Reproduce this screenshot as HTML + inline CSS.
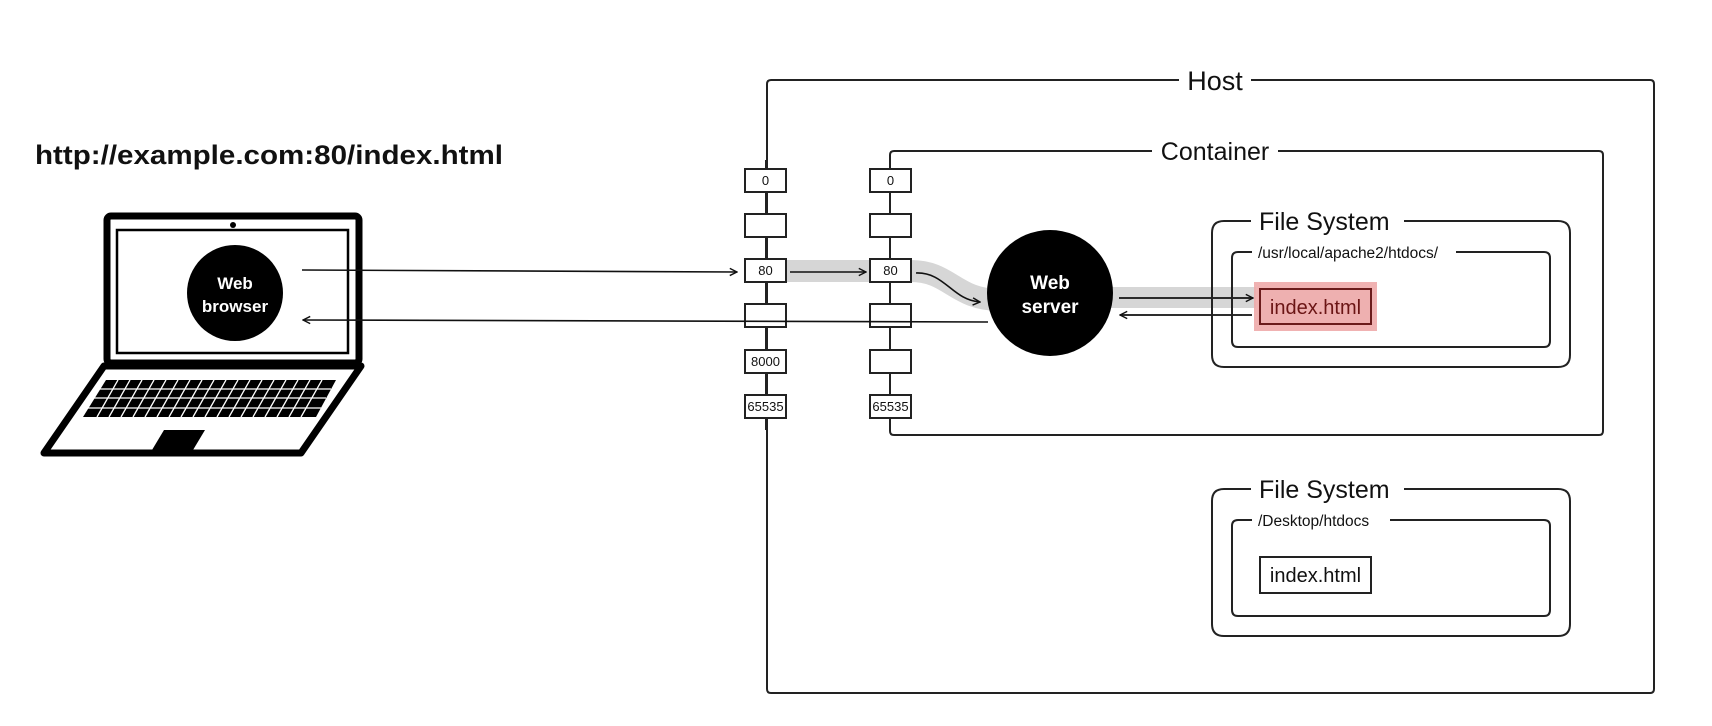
<!DOCTYPE html>
<html><head><meta charset="utf-8"><style>
html,body{margin:0;padding:0;background:#fff}
svg{display:block}
text{font-family:"Liberation Sans",sans-serif}
</style></head><body>
<svg width="1712" height="726" viewBox="0 0 1712 726" xmlns="http://www.w3.org/2000/svg">
<defs>
<marker id="ar" viewBox="0 0 10 10" refX="9" refY="5" markerWidth="9" markerHeight="9" orient="auto" markerUnits="userSpaceOnUse">
<path d="M1,1 L9,5 L1,9" fill="none" stroke="#111" stroke-width="1.6"/>
</marker>
</defs>
<text x="35" y="164" font-size="27" font-weight="bold" fill="#111" textLength="468" lengthAdjust="spacingAndGlyphs">http://example.com:80/index.html</text>

<!-- laptop -->
<rect x="107" y="216" width="252" height="147" rx="4" fill="none" stroke="#000" stroke-width="7"/>
<rect x="117" y="230" width="231" height="123" fill="none" stroke="#000" stroke-width="2.5"/>
<circle cx="233" cy="225" r="3" fill="#000"/>
<path d="M104,366 L361,366 L301,453 L44,453 Z" fill="none" stroke="#000" stroke-width="7" stroke-linejoin="round"/>
<path d="M106,380 L336,380 L316,417 L83,417 Z" fill="#000"/>
<g stroke="#fff" stroke-width="1.3">
<line x1="98" y1="389" x2="331" y2="389"/><line x1="93" y1="398" x2="326" y2="398"/><line x1="88" y1="408" x2="321" y2="408"/>
<line x1="118" y1="380" x2="97" y2="417"/><line x1="130" y1="380" x2="109" y2="417"/><line x1="142" y1="380" x2="121" y2="417"/><line x1="154" y1="380" x2="133" y2="417"/><line x1="166" y1="380" x2="145" y2="417"/><line x1="178" y1="380" x2="157" y2="417"/><line x1="190" y1="380" x2="169" y2="417"/><line x1="202" y1="380" x2="181" y2="417"/><line x1="214" y1="380" x2="193" y2="417"/><line x1="226" y1="380" x2="205" y2="417"/><line x1="238" y1="380" x2="217" y2="417"/><line x1="250" y1="380" x2="229" y2="417"/><line x1="262" y1="380" x2="241" y2="417"/><line x1="274" y1="380" x2="253" y2="417"/><line x1="286" y1="380" x2="265" y2="417"/><line x1="298" y1="380" x2="277" y2="417"/><line x1="310" y1="380" x2="289" y2="417"/><line x1="322" y1="380" x2="301" y2="417"/>
</g>
<path d="M164,430 L205,430 L193,450 L152,450 Z" fill="#000"/>
<circle cx="235" cy="293" r="48" fill="#000"/>
<text x="235" y="289" font-size="17" font-weight="bold" fill="#fff" text-anchor="middle">Web</text>
<text x="235" y="312" font-size="17" font-weight="bold" fill="#fff" text-anchor="middle">browser</text>

<!-- gray bands -->
<rect x="786" y="260" width="84" height="22" fill="#d6d6d6"/>
<path d="M911,271 C950,271 955,300 1000,300" fill="none" stroke="#d6d6d6" stroke-width="22"/>
<rect x="1100" y="287" width="156" height="21" fill="#d6d6d6"/>

<!-- Host -->
<path d="M1179,80 L771,80 Q767,80 767,84 L767,689 Q767,693 771,693 L1650,693 Q1654,693 1654,689 L1654,84 Q1654,80 1650,80 L1251,80" fill="none" stroke="#222" stroke-width="2"/>
<text x="1215" y="90" font-size="27" fill="#111" text-anchor="middle">Host</text>

<!-- Container -->
<path d="M1152,151 L894,151 Q890,151 890,155 L890,431 Q890,435 894,435 L1599,435 Q1603,435 1603,431 L1603,155 Q1603,151 1599,151 L1278,151" fill="none" stroke="#222" stroke-width="2"/>
<text x="1215" y="160" font-size="25" fill="#111" text-anchor="middle">Container</text>

<!-- port stacks -->
<line x1="766" y1="160" x2="766" y2="430" stroke="#222" stroke-width="2"/>
<line x1="890" y1="160" x2="890" y2="420" stroke="#222" stroke-width="2"/>
<g fill="#fff" stroke="#222" stroke-width="2">
<rect x="745" y="169" width="41" height="23"/><rect x="745" y="214" width="41" height="23"/><rect x="745" y="259" width="41" height="23"/><rect x="745" y="304" width="41" height="23"/><rect x="745" y="350" width="41" height="23"/><rect x="745" y="395" width="41" height="23"/>
<rect x="870" y="169" width="41" height="23"/><rect x="870" y="214" width="41" height="23"/><rect x="870" y="259" width="41" height="23"/><rect x="870" y="304" width="41" height="23"/><rect x="870" y="350" width="41" height="23"/><rect x="870" y="395" width="41" height="23"/>
</g>
<g font-size="13" fill="#111" text-anchor="middle">
<text x="765.5" y="185">0</text><text x="765.5" y="275">80</text><text x="765.5" y="366">8000</text><text x="765.5" y="411">65535</text>
<text x="890.5" y="185">0</text><text x="890.5" y="275">80</text><text x="890.5" y="411">65535</text>
</g>

<!-- arrows -->
<line x1="302" y1="270" x2="737" y2="272" stroke="#111" stroke-width="1.6" marker-end="url(#ar)"/>
<line x1="988" y1="322" x2="303" y2="320" stroke="#111" stroke-width="1.6" marker-end="url(#ar)"/>
<line x1="790" y1="272" x2="866" y2="272" stroke="#111" stroke-width="1.6" marker-end="url(#ar)"/>
<path d="M916,273 C945,272 952,300 980,302" fill="none" stroke="#111" stroke-width="1.6" marker-end="url(#ar)"/>

<!-- web server -->
<circle cx="1050" cy="293" r="63" fill="#000"/>
<text x="1050" y="289" font-size="19" font-weight="bold" fill="#fff" text-anchor="middle">Web</text>
<text x="1050" y="313" font-size="19" font-weight="bold" fill="#fff" text-anchor="middle">server</text>
<line x1="1119" y1="298" x2="1253" y2="298" stroke="#111" stroke-width="1.8" marker-end="url(#ar)"/>
<line x1="1252" y1="315" x2="1120" y2="315" stroke="#111" stroke-width="1.8" marker-end="url(#ar)"/>

<!-- FS1 -->
<path d="M1251,221 L1224,221 Q1212,221 1212,233 L1212,355 Q1212,367 1224,367 L1558,367 Q1570,367 1570,355 L1570,233 Q1570,221 1558,221 L1404,221" fill="none" stroke="#222" stroke-width="2"/>
<text x="1259" y="230" font-size="25" fill="#111">File System</text>
<path d="M1252,252 L1238,252 Q1232,252 1232,258 L1232,341 Q1232,347 1238,347 L1544,347 Q1550,347 1550,341 L1550,258 Q1550,252 1544,252 L1456,252" fill="none" stroke="#222" stroke-width="2"/>
<text x="1258" y="258" font-size="15.5" fill="#111">/usr/local/apache2/htdocs/</text>
<rect x="1254" y="282" width="123" height="49" fill="#eeaaaa" opacity="0.9"/>
<rect x="1260" y="289" width="111" height="35" fill="#eeb0b0" stroke="#6b1b1b" stroke-width="2"/>
<text x="1315.5" y="314" font-size="20" fill="#6b1515" text-anchor="middle">index.html</text>

<!-- FS2 -->
<path d="M1251,489 L1224,489 Q1212,489 1212,501 L1212,624 Q1212,636 1224,636 L1558,636 Q1570,636 1570,624 L1570,501 Q1570,489 1558,489 L1404,489" fill="none" stroke="#222" stroke-width="2"/>
<text x="1259" y="498" font-size="25" fill="#111">File System</text>
<path d="M1252,520 L1238,520 Q1232,520 1232,526 L1232,610 Q1232,616 1238,616 L1544,616 Q1550,616 1550,610 L1550,526 Q1550,520 1544,520 L1390,520" fill="none" stroke="#222" stroke-width="2"/>
<text x="1258" y="526" font-size="15.5" fill="#111">/Desktop/htdocs</text>
<rect x="1260" y="557" width="111" height="36" fill="#fff" stroke="#222" stroke-width="2"/>
<text x="1315.5" y="582" font-size="20" fill="#111" text-anchor="middle">index.html</text>
</svg>
</body></html>
